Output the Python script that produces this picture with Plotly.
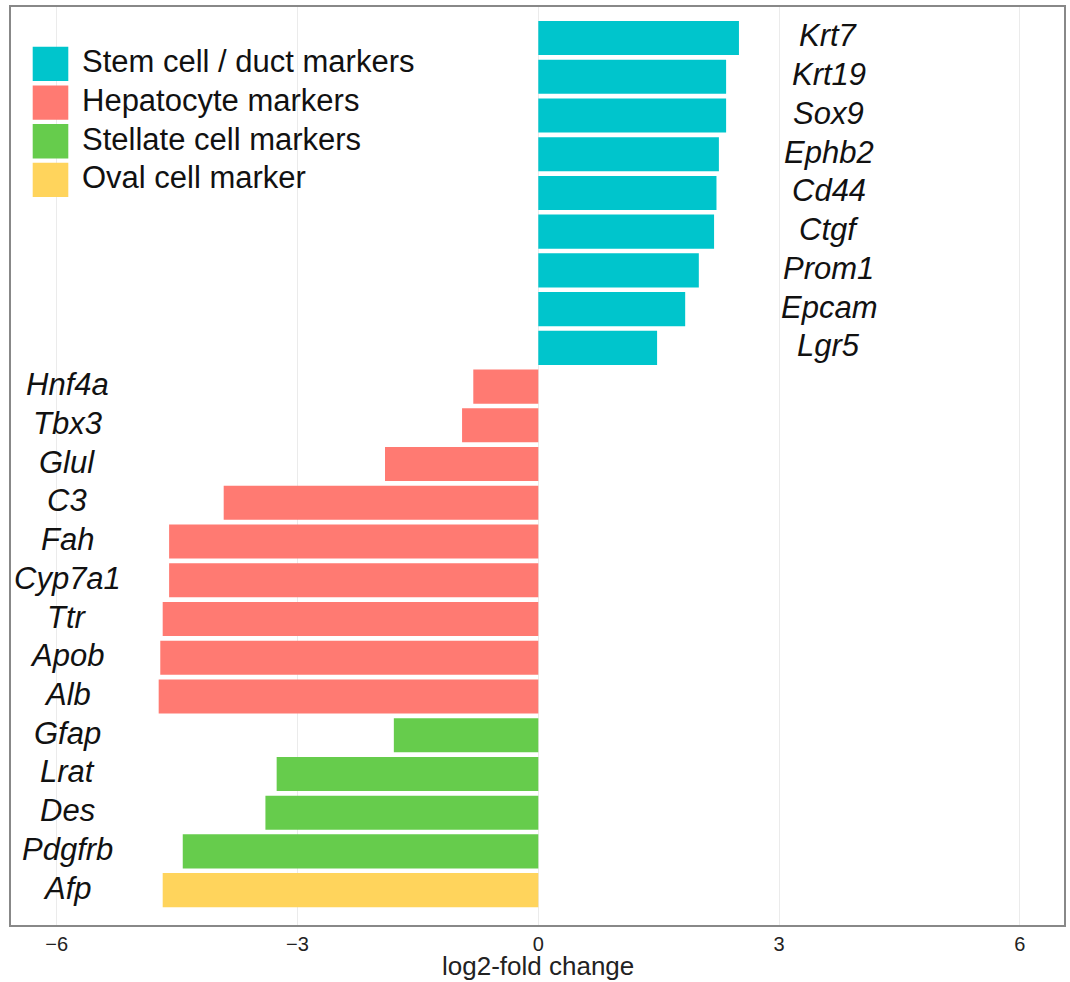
import plotly.graph_objects as go

# Genes ordered top to bottom, with their log2-fold changes
stem_genes = ["Krt7", "Krt19", "Sox9", "Ephb2", "Cd44", "Ctgf", "Prom1", "Epcam", "Lgr5"]
stem_vals = [2.50, 2.34, 2.34, 2.25, 2.22, 2.19, 2.00, 1.83, 1.48]

hep_genes = ["Hnf4a", "Tbx3", "Glul", "C3", "Fah", "Cyp7a1", "Ttr", "Apob", "Alb"]
hep_vals = [-0.81, -0.95, -1.91, -3.92, -4.60, -4.60, -4.68, -4.71, -4.73]

stel_genes = ["Gfap", "Lrat", "Des", "Pdgfrb"]
stel_vals = [-1.80, -3.26, -3.40, -4.43]

oval_genes = ["Afp"]
oval_vals = [-4.68]

group_names = ["Stem cell / duct markers", "Hepatocyte markers",
               "Stellate cell markers", "Oval cell marker"]
group_colors = ["#00C5CC", "#FF7A72", "#66CC4C", "#FFD45C"]

x_ticks = [-6, -3, 0, 3, 6]
x_tick_text = ["\u22126", "\u22123", "0", "3", "6"]
x_title = "log2-fold change"

groups = [(stem_genes, stem_vals), (hep_genes, hep_vals),
          (stel_genes, stel_vals), (oval_genes, oval_vals)]
all_genes = [g for genes, _ in groups for g in genes]

FONT = "Liberation Sans, Arial, sans-serif"

fig = go.Figure()
for (genes, vals), name, color in zip(groups, group_names, group_colors):
    fig.add_trace(go.Bar(
        x=vals, y=genes, orientation="h", name=name,
        marker=dict(color=color, line=dict(width=0)),
        showlegend=False,
    ))

# Gene names: right of positive bars, at the left edge for negative bars
for genes, vals in groups:
    for g, v in zip(genes, vals):
        fig.add_annotation(
            x=3.62 if v > 0 else -5.87, y=g, text=g, showarrow=False,
            xanchor="center", yanchor="middle", yshift=2,
            font=dict(family=FONT, size=31, color="#111111", style="italic"),
        )

# Legend drawn as swatches + labels in the upper-left corner
L, R, T, B = 11, 1064, 7, 925
W, H = R - L, B - T
for i, (name, color) in enumerate(zip(group_names, group_colors)):
    top = 46.7 + 38.7 * i
    bot = top + 34.3
    fig.add_shape(
        type="rect", xref="paper", yref="paper",
        x0=(32.7 - L) / W, x1=(68.3 - L) / W,
        y0=(B - bot) / H, y1=(B - top) / H,
        fillcolor=color, line=dict(width=0), layer="above",
    )
    fig.add_annotation(
        xref="paper", yref="paper",
        x=(80 - L) / W, y=(B - (top + bot) / 2) / H,
        text=name, showarrow=False, xanchor="left", yanchor="middle", yshift=2,
        font=dict(family=FONT, size=31, color="#111111"),
    )

# x-axis title along the bottom edge, under the tick labels
fig.add_annotation(
    xref="x", yref="paper", x=0, y=(B - 982) / H,
    text=x_title, showarrow=False, xanchor="center", yanchor="bottom",
    borderpad=0,
    font=dict(family=FONT, size=26, color="#222222"),
)

fig.update_layout(
    width=1070, height=982,
    margin=dict(l=L, r=1070 - R, t=T, b=982 - B, autoexpand=False),
    plot_bgcolor="white", paper_bgcolor="white",
    bargap=0.12, barmode="overlay",
    font=dict(family=FONT, color="#222222"),
)
fig.update_xaxes(
    range=[-6.57, 6.55], tickvals=x_ticks, ticktext=x_tick_text,
    tickfont=dict(size=20, color="#222222"),
    showgrid=True, gridcolor="#EBEBEB", gridwidth=1,
    zeroline=False, ticks="", ticklen=0, automargin=False,
    showline=True, linecolor="#888888", linewidth=2, mirror=True,
)
fig.update_yaxes(
    type="category", categoryorder="array", categoryarray=all_genes,
    range=[len(all_genes) - 1 + 0.9, -0.80], automargin=False,
    showticklabels=False, showgrid=False, zeroline=False, ticks="",
    showline=True, linecolor="#888888", linewidth=2, mirror=True,
)

fig.write_html("out.html")
